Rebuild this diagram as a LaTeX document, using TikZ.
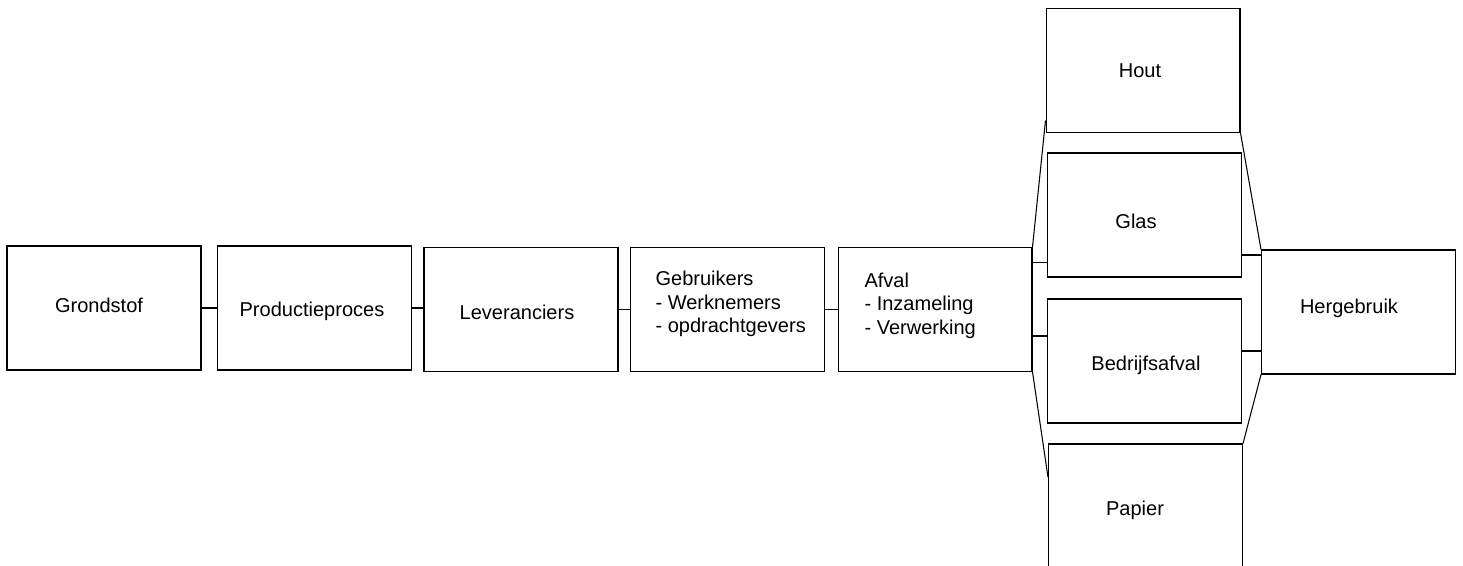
\documentclass[tikz,border=0pt]{standalone}
\usepackage{fontspec}
\setmainfont{Liberation Sans}
\usetikzlibrary{calc,positioning}

\begin{document}
\begin{tikzpicture}[x=0.02cm, y=-0.02cm,
		box/.style={draw, line width=0.6pt, minimum width=3.88cm, minimum height=2.48cm, inner sep=0pt},
		lbl/.style={inner sep=0pt, font=\fontsize{11.4}{13.4}\selectfont, align=left}]
		\useasboundingbox (0,0) rectangle (1463,565);
		\tikzstyle{every path}=[line width=0.6pt]
		% keten
		\node [box] (grondstof) at (104,308) {};
		\node [box] (productie) at (314.5,308) {};
		\node [box] (leveranciers) at (521,309.5) {};
		\node [box] (gebruikers) at (727.5,309.5) {};
		\node [box] (afval) at (935,309.5) {};
		% afvalstromen
		\node [box] (hout) at (1143,70.5) {};
		\node [box] (glas) at (1144.5,215) {};
		\node [box] (bedrijf) at (1144.5,361) {};
		\node [box] (papier) at (1145.5,506) {};
		\node [box] (hergebruik) at (1358.5,312) {};
		% teksten
		\node [lbl] (tgrondstof) at (99,305) {Grondstof};
		\node [lbl] (tproductie) at (312,311) {Productieproces};
		\node [lbl] (tleveranciers) at (517,312) {Leveranciers};
		\node [lbl, anchor=west] (tgebruikers) at (655,304) {Gebruikers\\- Werknemers\\- opdrachtgevers};
		\node [lbl, anchor=west] (tafval) at (864,305.5) {Afval\\- Inzameling\\- Verwerking};
		\node [lbl] (thout) at (1140,71) {Hout};
		\node [lbl] (tglas) at (1136,221) {Glas};
		\node [lbl] (tbedrijf) at (1146,365) {Bedrijfsafval};
		\node [lbl] (tpapier) at (1135,510) {Papier};
		\node [lbl] (thergebruik) at (1349,308) {Hergebruik};
		% verbindingen
		\draw (grondstof.east) -- (productie.west);
		\draw (productie.east) -- (productie.east -| leveranciers.west);
		\draw (leveranciers.east) -- (leveranciers.east -| gebruikers.west);
		\draw (gebruikers.east) -- (gebruikers.east -| afval.west);
		\coordinate (g1) at ($(glas.south west)!0.12!(glas.north west)$);
		\coordinate (b1) at ($(bedrijf.north west)!0.3!(bedrijf.south west)$);
		\coordinate (g2) at ($(glas.north east)!0.82!(glas.south east)$);
		\coordinate (b2) at ($(bedrijf.north east)!0.42!(bedrijf.south east)$);
		\coordinate (h1) at ($(hout.south west)!0.1!(hout.north west)$);
		\coordinate (p1) at ($(papier.north west)!0.27!(papier.south west)$);
		\draw (g1) -- (g1 -| afval.east);
		\draw (b1) -- (b1 -| afval.east);
		\draw (g2) -- (g2 -| hergebruik.west);
		\draw (b2) -- (b2 -| hergebruik.west);
		\draw (afval.north east) -- (h1);
		\draw (afval.south east) -- (p1);
		\draw (hout.south east) -- (hergebruik.north west);
		\draw (papier.north east) -- (hergebruik.south west);
	\end{tikzpicture}
\end{document}
